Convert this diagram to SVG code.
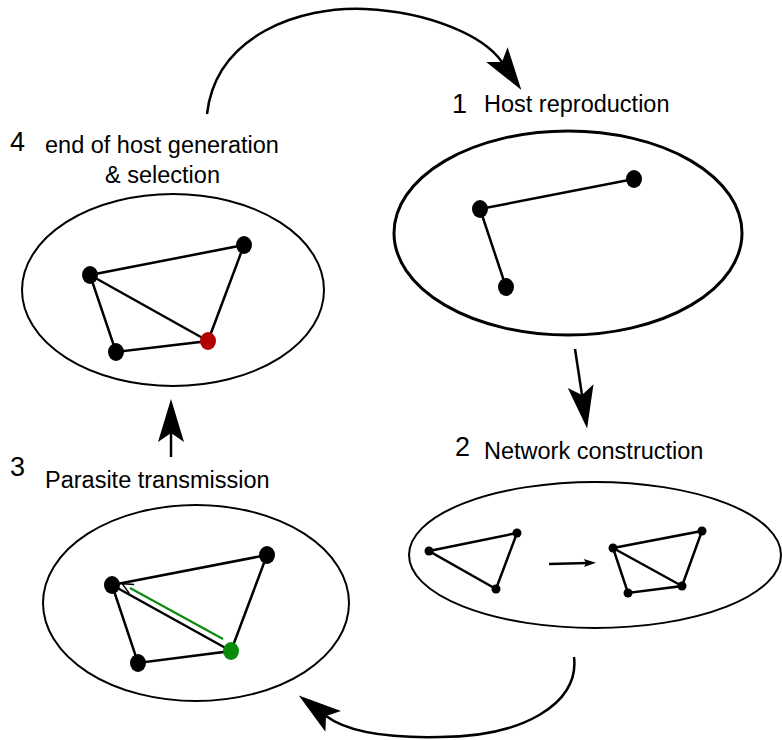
<svg xmlns="http://www.w3.org/2000/svg" width="782" height="740" viewBox="0 0 782 740">
<defs>
<style>
.pop{fill:#fff;stroke:#000;stroke-width:2}
.edge{stroke:#000;stroke-width:2.5;fill:none}
.nd{fill:#000}
.lbl{font-family:"Liberation Sans",Arial,sans-serif;font-size:23.5px;fill:#000}
.num{font-family:"Liberation Sans",Arial,sans-serif;font-size:27px;fill:#000}
.conn{stroke:#000;stroke-width:2.5;fill:none}
</style>
<marker id="big" markerUnits="userSpaceOnUse" markerWidth="60" markerHeight="40" refX="0" refY="0" orient="auto" overflow="visible">
<path d="M-9,-13 L34,0 L-9,13 L0,0 Z" fill="#000"/>
</marker>
<marker id="small" markerUnits="userSpaceOnUse" markerWidth="20" markerHeight="20" refX="0" refY="0" orient="auto" overflow="visible">
<path d="M-4,-4 L8,0 L-4,4 L-2,0 Z" fill="#000"/>
</marker>
<marker id="tiny" markerUnits="userSpaceOnUse" markerWidth="20" markerHeight="20" refX="0" refY="0" orient="auto" overflow="visible">
<path d="M-2,-5 L9,0 L-2,5" fill="none" stroke="#000" stroke-width="1.5"/>
</marker>
</defs>

<g id="connectors">
<path class="conn" d="M207,114 C216,35 300,6 365,9 C430,12 484,36 502,62" marker-end="url(#big)"/>
<path class="conn" d="M575,349 L582,395" marker-end="url(#big)"/>
<path class="conn" d="M574,657 C580,705 520,737 440,737 C395,738 350,734 326,716" marker-end="url(#big)"/>
<path class="conn" d="M171,457 L171,433" marker-end="url(#big)"/>
</g>

<g id="stage1">
<ellipse cx="568" cy="233" rx="174" ry="102" fill="#fff" stroke="#000" stroke-width="3"/>
<path class="edge" d="M634,179 L480,209 L506,287"/>
<ellipse class="nd" cx="480" cy="209" rx="8" ry="9"/>
<ellipse class="nd" cx="634" cy="179" rx="8" ry="9"/>
<ellipse class="nd" cx="506" cy="287" rx="8" ry="9"/>
<text class="num" x="452" y="113">1</text>
<text class="lbl" x="484" y="112">Host reproduction</text>
</g>

<g id="stage2">
<ellipse class="pop" cx="595" cy="555" rx="186" ry="73"/>
<path class="edge" d="M429,551 L517,533 L496,589 Z"/>
<circle class="nd" cx="429" cy="551" r="4.5"/>
<circle class="nd" cx="517" cy="533" r="4.5"/>
<circle class="nd" cx="496" cy="589" r="4.5"/>
<path class="edge" d="M549,564 L588,563" marker-end="url(#small)"/>
<path class="edge" d="M613,548 L702,531 L682,586 L628,593 Z M613,548 L682,586"/>
<circle class="nd" cx="613" cy="548" r="4.5"/>
<circle class="nd" cx="702" cy="531" r="4.5"/>
<circle class="nd" cx="682" cy="586" r="4.5"/>
<circle class="nd" cx="628" cy="593" r="4.5"/>
<text class="num" x="455" y="456">2</text>
<text class="lbl" x="484" y="459">Network construction</text>
</g>

<g id="stage3">
<ellipse class="pop" cx="196" cy="603" rx="153" ry="98"/>
<path class="edge" d="M112,585 L267,555 L231,651 L138,663 Z M112,585 L231,651"/>
<path d="M223,639 L130,588" stroke="#0a8a0a" stroke-width="2" fill="none" marker-end="url(#tiny)"/>
<ellipse class="nd" cx="112" cy="585" rx="8" ry="9"/>
<ellipse class="nd" cx="267" cy="555" rx="8" ry="9"/>
<ellipse class="nd" cx="138" cy="663" rx="8" ry="9"/>
<ellipse cx="231" cy="651" rx="8" ry="9" fill="#0a8a0a"/>
<text class="num" x="10" y="476">3</text>
<text class="lbl" x="45" y="488">Parasite transmission</text>
</g>

<g id="stage4">
<ellipse class="pop" cx="173" cy="290" rx="151" ry="96"/>
<path class="edge" d="M90,275 L244,245 L208,341 L116,352 Z M90,275 L208,341"/>
<ellipse class="nd" cx="90" cy="275" rx="8" ry="9"/>
<ellipse class="nd" cx="244" cy="245" rx="8" ry="9"/>
<ellipse class="nd" cx="116" cy="352" rx="8" ry="9"/>
<ellipse cx="208" cy="341" rx="8" ry="9" fill="#b00000"/>
<text class="num" x="10" y="151">4</text>
<text class="lbl" x="45" y="153">end of host generation</text>
<text class="lbl" x="105" y="183">&amp; selection</text>
</g>
</svg>
